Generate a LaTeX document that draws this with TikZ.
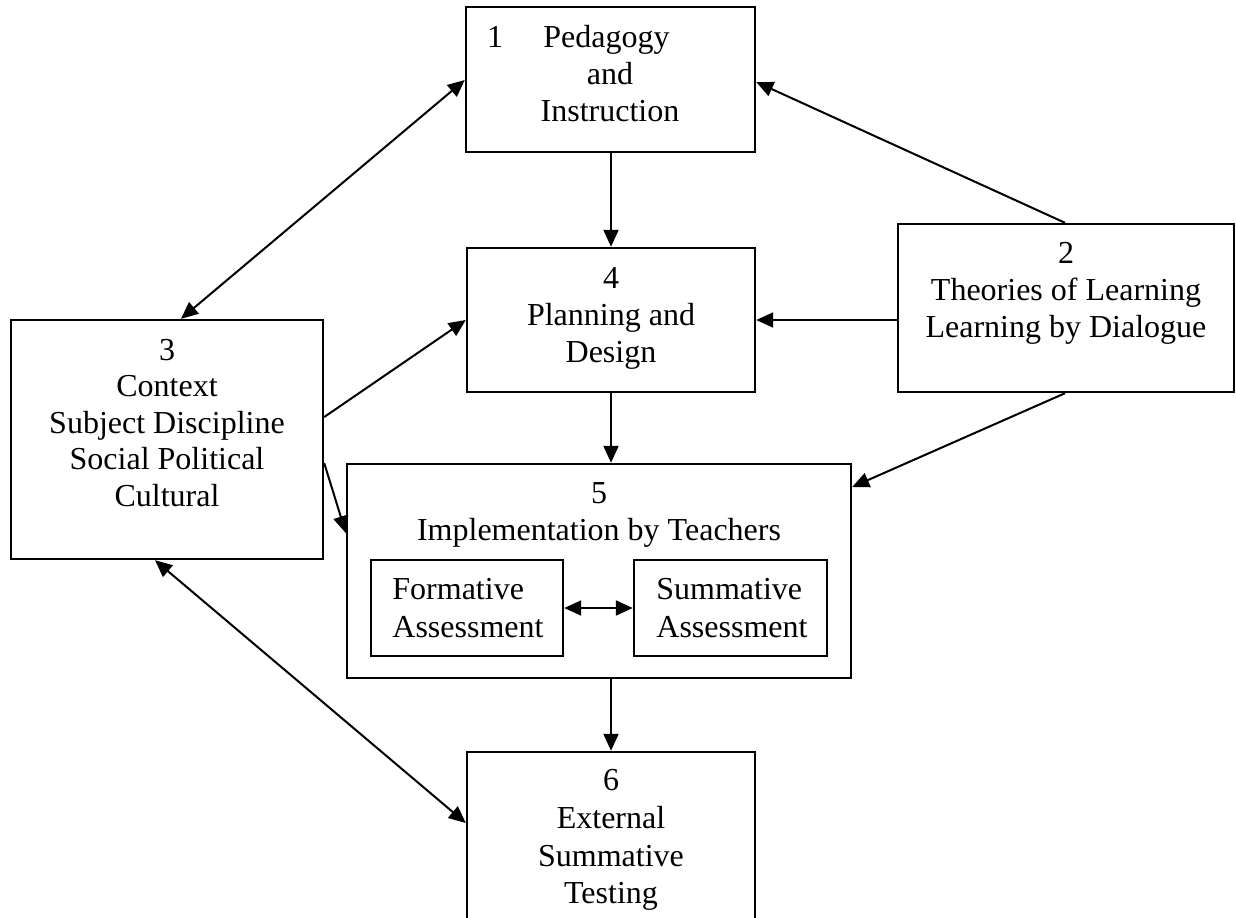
\documentclass[tikz,border=0pt]{standalone}
\usepackage{fontspec}
\setmainfont{Liberation Serif}
\usetikzlibrary{arrows.meta,fit}
\tikzset{
  box/.style={draw, line width=1.2pt, inner sep=0pt, rectangle},
  txt/.style={anchor=base, inner sep=0pt, font=\fontsize{16}{18}\selectfont},
  arr/.style={line width=1pt, -{Triangle[length=8.5pt,width=7.5pt]}},
  dbl/.style={line width=1pt, {Triangle[length=8.5pt,width=7.5pt]}-{Triangle[length=8.5pt,width=7.5pt]}}
}
\begin{document}
\begin{tikzpicture}[x=0.5pt,y=-0.5pt]
\clip (0,0) rectangle (1236,917);
\fill[white] (0,0) rectangle (1236,917);
% boxes
\node[box, fit={(466,7) (755,152)}] (n1) {};
\node[box, fit={(898,224) (1234,392)}] (n2) {};
\node[box, fit={(11,320) (323,559)}] (n3) {};
\node[box, fit={(467,248) (755,392)}] (n4) {};
\node[box, fit={(347,464) (851,678)}] (n5) {};
\node[box, fit={(371,560) (563,656)}] (nf) {};
\node[box, fit={(634,560) (827,656)}] (ns) {};
\node[box, fit={(467,752) (755,940)}] (n6) {};
% texts box 1
\node[txt] (t1a) at (495,47) {1};
\node[txt, anchor=base west] (t1b) at (543,47) {Pedagogy};
\node[txt] (t1c) at (610,84) {and};
\node[txt] (t1d) at (610,121) {Instruction};
% box 2
\node[txt] (t2a) at (1066,263) {2};
\node[txt] (t2b) at (1066,300) {Theories of Learning};
\node[txt] (t2c) at (1066,337) {Learning by Dialogue};
% box 3
\node[txt] (t3a) at (167,360) {3};
\node[txt] (t3b) at (167,396.5) {Context};
\node[txt] (t3c) at (167,433) {Subject Discipline};
\node[txt] (t3d) at (167,469.5) {Social Political};
\node[txt] (t3e) at (167,506) {Cultural};
% box 4
\node[txt] (t4a) at (611,288) {4};
\node[txt] (t4b) at (611,325) {Planning and};
\node[txt] (t4c) at (611,362) {Design};
% box 5
\node[txt] (t5a) at (599,503) {5};
\node[txt] (t5b) at (599,540) {Implementation by Teachers};
\node[txt, anchor=base west] (tfa) at (392,599) {Formative};
\node[txt, anchor=base west] (tfb) at (392,637) {Assessment};
\node[txt, anchor=base west] (tsa) at (656,599) {Summative};
\node[txt, anchor=base west] (tsb) at (656,637) {Assessment};
% box 6
\node[txt] (t6a) at (611,790) {6};
\node[txt] (t6b) at (611,828) {External};
\node[txt] (t6c) at (611,866) {Summative};
\node[txt] (t6d) at (611,903) {Testing};
% connectors
\draw[dbl] (n3.north -| 181,0) -- (n1.west |- 0,80);
\draw[arr] (n2.north -| 1065,0) -- (n1.east |- 0,82);
\draw[arr] (n1.south -| 611,0) -- (n4.north -| 611,0);
\draw[arr] (n2.west |- 0,320) -- (n4.east |- 0,320);
\draw[arr] (n3.east |- 0,417) -- (n4.west |- 0,320);
\draw[arr] (n4.south -| 611,0) -- (n5.north -| 611,0);
\draw[arr] (n3.east |- 0,463) -- (n5.west |- 0,533);
\draw[arr] (n2.south -| 1065,0) -- (n5.east |- 0,487);
\draw[dbl] (nf.east) -- (ns.west);
\draw[arr] (n5.south -| 611,0) -- (n6.north -| 611,0);
\draw[dbl] (n3.south -| 155,0) -- (n6.west |- 0,823);
\end{tikzpicture}
\end{document}
